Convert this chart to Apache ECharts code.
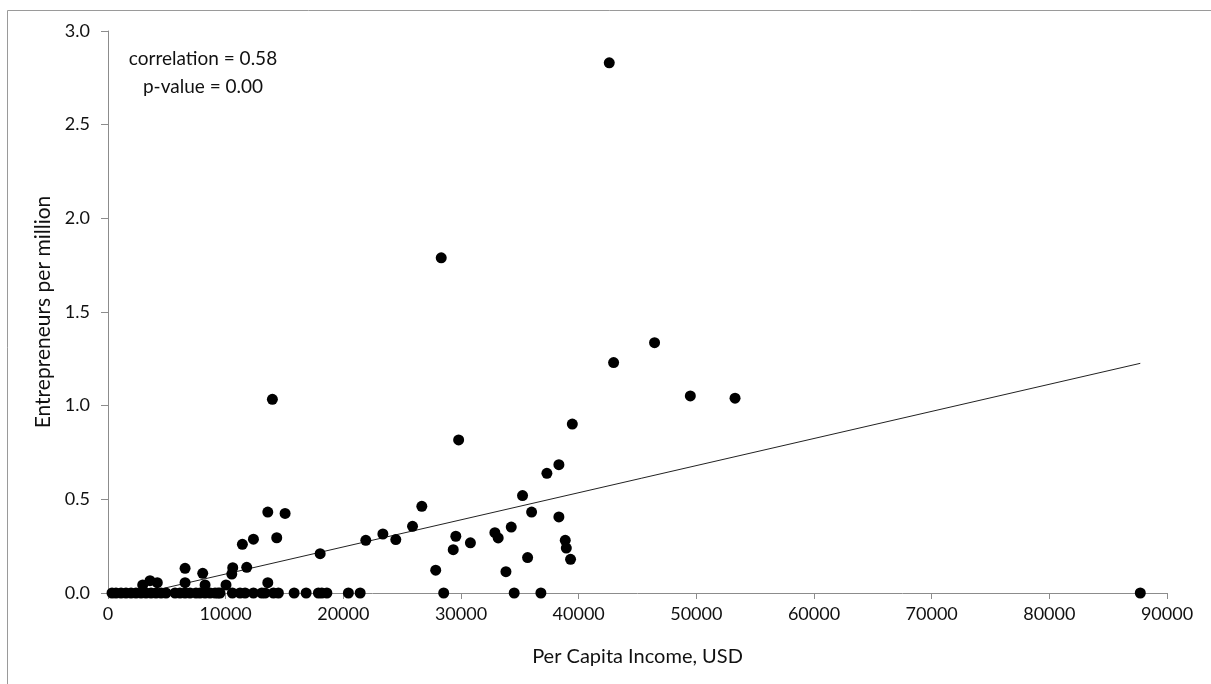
<!DOCTYPE html>
<html>
<head>
<meta charset="utf-8">
<script src="https://cdn.jsdelivr.net/npm/echarts@6/dist/echarts.min.js"></script>
<style>
html,body{margin:0;padding:0;background:#fff;}
#chart{width:1211px;height:684px;}
</style>
</head>
<body>
<div id="chart"></div>
<script>
// Per capita income (USD) of points with 0 entrepreneurs per million
const zeroIncome = [340, 680, 1110, 1530, 1960, 2380, 2810, 3230, 3660, 4080, 4510, 4930,
  5700, 6120, 6550, 6970, 7480, 7820, 8250, 8670, 9100, 9350,
  9520, 10570, 11220, 11650, 12360, 13070, 13350, 14060, 14480, 15820, 16840,
  17880, 18170, 18600, 20430, 21430, 28530, 34520, 36790, 87730];

// Points with non-zero values
const income = [2950, 3570, 4190, 6550, 6550, 8050, 8250, 10030, 10520, 10600,
  11420, 11790, 12360, 13580, 13580, 13970, 14340, 15050, 18030, 21910,
  23360, 24460, 25880, 26670, 27850, 28320, 29340, 29560, 29800, 30800,
  32880, 33160, 33820, 34270, 35230, 35660, 36000, 37300, 38320, 38320,
  38860, 38950, 39310, 39460, 42600, 42970, 46450, 49490, 53290];
const entrepreneurs = [0.043, 0.066, 0.055, 0.132, 0.055, 0.105, 0.043, 0.043, 0.101, 0.135,
  0.26, 0.137, 0.287, 0.432, 0.055, 1.034, 0.295, 0.425, 0.21, 0.281,
  0.315, 0.285, 0.356, 0.463, 0.122, 1.789, 0.231, 0.303, 0.817, 0.268,
  0.322, 0.294, 0.114, 0.352, 0.52, 0.189, 0.432, 0.639, 0.685, 0.406,
  0.281, 0.24, 0.18, 0.902, 2.83, 1.23, 1.336, 1.052, 1.04];

// Linear trend line end points
const trendX = [3000, 87730];
const trendY = [0, 1.226];

const annotation = ['correlation = 0.58', 'p-value = 0.00'];
const xTitle = 'Per Capita Income, USD';
const yTitle = 'Entrepreneurs per million';

const scatterData = zeroIncome.map(x => [x, 0]).concat(income.map((x, i) => [x, entrepreneurs[i]]));
const trendData = trendX.map((x, i) => [x, trendY[i]]);

const FONT = 'Lato';
const TEXT = '#111';
const axisColor = '#8c8c8c';

const chart = echarts.init(document.getElementById('chart'), null, {renderer: 'canvas'});
chart.setOption({
  animation: false,
  backgroundColor: '#fff',
  grid: {left: 108, right: 44, top: 31, bottom: 91, containLabel: false},
  xAxis: {
    type: 'value', min: 0, max: 90000, interval: 10000,
    name: xTitle, nameLocation: 'middle', nameGap: 54,
    nameTextStyle: {fontFamily: FONT, fontSize: 20, color: TEXT},
    axisLine: {show: true, lineStyle: {color: axisColor, width: 1}},
    axisTick: {show: true, length: 6, lineStyle: {color: axisColor}},
    axisLabel: {fontFamily: FONT, fontSize: 18, color: TEXT, margin: 12,
      formatter: v => String(v)},
    splitLine: {show: false}
  },
  yAxis: {
    type: 'value', min: 0, max: 3, interval: 0.5,
    name: yTitle, nameLocation: 'middle', nameGap: 48, nameRotate: 90,
    nameTextStyle: {fontFamily: FONT, fontSize: 21, color: TEXT},
    axisLine: {show: true, lineStyle: {color: axisColor, width: 1}},
    axisTick: {show: true, length: 7, lineStyle: {color: axisColor}},
    axisLabel: {fontFamily: FONT, fontSize: 18, color: TEXT, margin: 18,
      formatter: v => v.toFixed(1)},
    splitLine: {show: false}
  },
  series: [
    {
      type: 'line', data: trendData, symbol: 'none', silent: true,
      lineStyle: {color: '#222', width: 1}, z: 1
    },
    {
      type: 'scatter', data: scatterData, symbol: 'circle', symbolSize: 11,
      itemStyle: {color: '#000', opacity: 1}, z: 2
    }
  ],
  graphic: [
    {type: 'line', shape: {x1: 7.5, y1: 10.5, x2: 7.5, y2: 684}, style: {stroke: '#9a9a9a', lineWidth: 1}},
    {type: 'line', shape: {x1: 7.5, y1: 10.5, x2: 1211, y2: 10.5}, style: {stroke: '#9a9a9a', lineWidth: 1}},
    {type: 'text', x: 203, y: 59, style: {text: annotation[0], x: 0, y: 0, align: 'center', verticalAlign: 'middle', font: '19px Lato', fill: TEXT}},
    {type: 'text', x: 203, y: 87, style: {text: annotation[1], x: 0, y: 0, align: 'center', verticalAlign: 'middle', font: '19px Lato', fill: TEXT}}
  ]
});
</script>
</body>
</html>
